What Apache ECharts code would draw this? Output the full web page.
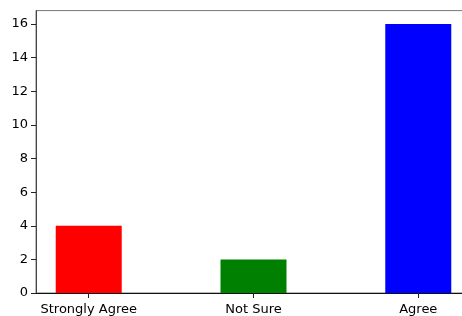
<!DOCTYPE html>
<html>
<head>
<meta charset="utf-8">
<script src="https://cdn.jsdelivr.net/npm/echarts@6/dist/echarts.min.js"></script>
<style>
  html, body { margin: 0; padding: 0; background: #fff; overflow: hidden; }
  #chart { width: 471px; height: 316px; }
</style>
</head>
<body>
<div id="chart"></div>
<script>
var categories = ['Strongly Agree', 'Not Sure', 'Agree'];
var counts = [4, 2, 16];
var barColors = ['#ff0000', '#008000', '#0000ff'];
var yTicks = [0, 2, 4, 6, 8, 10, 12, 14, 16];

// the original figure is cropped on the right, so the plot runs past the page edge
var chart = echarts.init(document.getElementById('chart'));

var barData = [];
for (var i = 0; i < categories.length; i++) {
  barData.push({
    value: [i, counts[i]],
    itemStyle: { color: barColors[i] }
  });
}

var option = {
  animation: false,
  textStyle: { fontFamily: 'DejaVu Sans' },
  grid: {
    left: 36,
    right: 0,
    top: 10.6,
    bottom: 23,
    show: true,
    borderColor: '#777',
    borderWidth: 1
  },
  xAxis: {
    type: 'value',
    min: -0.32,
    max: 2.32,
    splitLine: { show: false },
    axisLine: { show: true, onZero: false, lineStyle: { color: '#111', width: 1 } },
    axisTick: { show: true, length: 5, lineStyle: { color: '#222' }, customValues: [0, 1, 2] },
    axisLabel: {
      margin: 10,
      fontSize: 13,
      color: '#000',
      customValues: [0, 1, 2],
      formatter: function(v) { return categories[Math.round(v)] || ''; }
    }
  },
  yAxis: {
    type: 'value',
    min: 0,
    max: 16.8,
    splitLine: { show: false },
    axisLine: { show: true, onZero: false, lineStyle: { color: '#444', width: 1 } },
    axisTick: { show: true, length: 5, lineStyle: { color: '#222' }, customValues: yTicks },
    axisLabel: {
      margin: 8,
      fontSize: 13,
      color: '#000',
      customValues: yTicks
    }
  },
  series: [{
    type: 'bar',
    barWidth: 66,
    data: barData
  }]
};

chart.setOption(option);
</script>
</body>
</html>
